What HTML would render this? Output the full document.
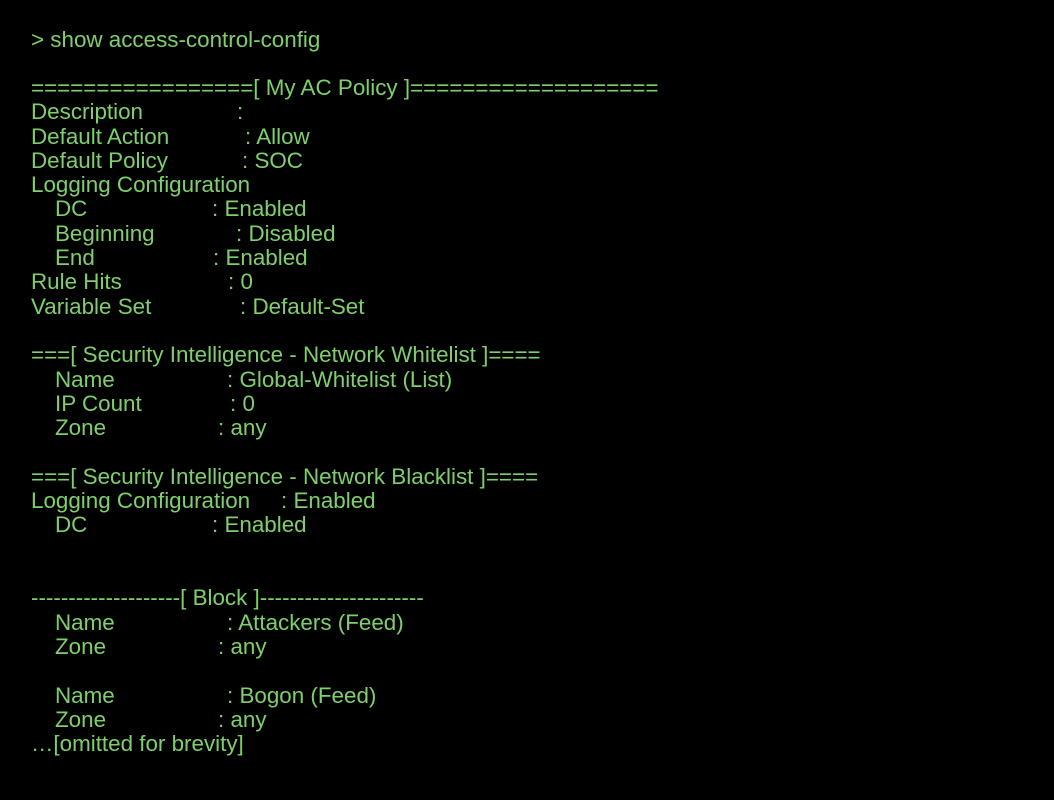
<!DOCTYPE html>
<html><head><meta charset="utf-8"><style>
html,body{margin:0;padding:0;background:#000;width:1054px;height:800px;overflow:hidden}
body{position:relative;font-family:"Liberation Sans",Arial,sans-serif;font-size:22.4px;color:#7fd06c}
div{position:absolute;line-height:26px;white-space:pre;height:26px}
span{position:absolute;top:0;white-space:pre}
</style></head><body>
<div style="top:27px;left:31px">&gt; show access-control-config</div>
<div style="top:75px;left:31px">=================[ My AC Policy ]===================</div>
<div style="top:99px;left:31px">Description<span style="left:206px">:</span></div>
<div style="top:124px;left:31px">Default Action<span style="left:214px">: Allow</span></div>
<div style="top:148px;left:31px">Default Policy<span style="left:211px">: SOC</span></div>
<div style="top:172px;left:31px">Logging Configuration</div>
<div style="top:196px;left:55px">DC<span style="left:157px">: Enabled</span></div>
<div style="top:221px;left:55px">Beginning<span style="left:181px">: Disabled</span></div>
<div style="top:245px;left:55px">End<span style="left:158px">: Enabled</span></div>
<div style="top:269px;left:31px">Rule Hits<span style="left:197px">: 0</span></div>
<div style="top:294px;left:31px">Variable Set<span style="left:209px">: Default-Set</span></div>
<div style="top:342px;left:31px">===[ Security Intelligence - Network Whitelist ]====</div>
<div style="top:367px;left:55px">Name<span style="left:172px">: Global-Whitelist (List)</span></div>
<div style="top:391px;left:55px">IP Count<span style="left:175px">: 0</span></div>
<div style="top:415px;left:55px">Zone<span style="left:163px">: any</span></div>
<div style="top:464px;left:31px">===[ Security Intelligence - Network Blacklist ]====</div>
<div style="top:488px;left:31px">Logging Configuration<span style="left:250px">: Enabled</span></div>
<div style="top:512px;left:55px">DC<span style="left:157px">: Enabled</span></div>
<div style="top:585px;left:31px">--------------------[ Block ]----------------------</div>
<div style="top:610px;left:55px">Name<span style="left:172px">: Attackers (Feed)</span></div>
<div style="top:634px;left:55px">Zone<span style="left:163px">: any</span></div>
<div style="top:683px;left:55px">Name<span style="left:172px">: Bogon (Feed)</span></div>
<div style="top:707px;left:55px">Zone<span style="left:163px">: any</span></div>
<div style="top:731px;left:31px">…[omitted for brevity]</div>
</body></html>
